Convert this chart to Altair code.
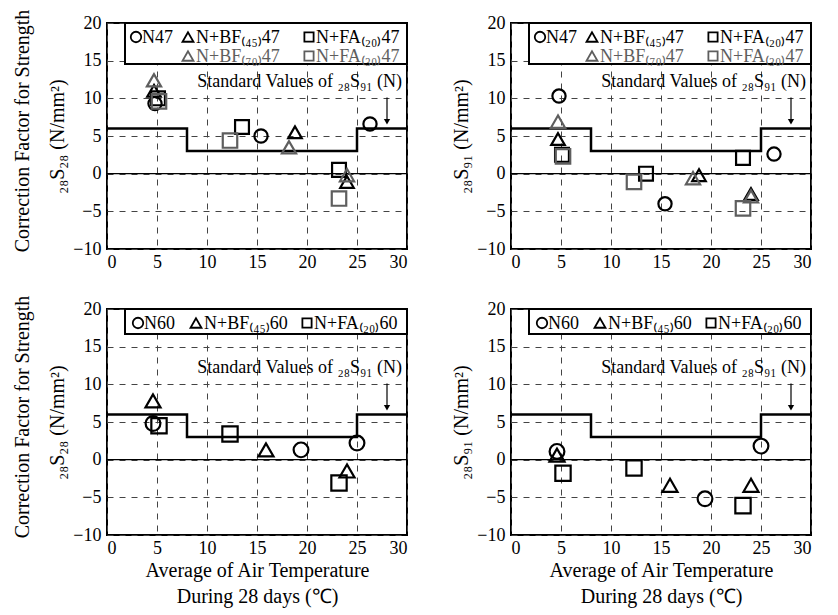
import altair as alt
import pandas as pd

# ---------------- data ----------------
series_47 = ["N47", "N+BF(45)47", "N+FA(20)47", "N+BF(70)47", "N+FA(30)47"]
series_60 = ["N60", "N+BF(45)60", "N+FA(20)60"]

# average air temperature during 28 days (deg C)
temp_N47 = [4.8, 15.4, 26.3]
temp_BF45_47 = [4.7, 18.8, 24.0]
temp_FA20_47 = [5.1, 13.5, 23.2]
temp_BF70_47 = [4.7, 18.2, 24.0]
temp_FA30_47 = [5.2, 12.3, 23.2]
temp_N60 = [4.6, 19.4, 25.0]
temp_BF45_60 = [4.6, 15.9, 24.0]
temp_FA20_60 = [5.2, 12.3, 23.2]

# 28S28 (N/mm2)
s2828_N47 = [9.3, 5.0, 6.6]
s2828_BF45_47 = [11.0, 5.5, -1.1]
s2828_FA20_47 = [10.0, 6.2, 0.5]
s2828_BF70_47 = [12.4, 3.5, -0.2]
s2828_FA30_47 = [9.6, 4.4, -3.3]
s2828_N60 = [4.8, 1.3, 2.2]
s2828_BF45_60 = [7.8, 1.3, -1.5]
s2828_FA20_60 = [4.5, 3.4, -3.1]

# 28S91 (N/mm2)
s2891_N47 = [10.3, -4.0, 2.6]
s2891_BF45_47 = [4.6, -0.2, -2.7]
s2891_FA20_47 = [2.5, 0.0, 2.1]
s2891_BF70_47 = [6.9, -0.6, -3.0]
s2891_FA30_47 = [2.3, -1.1, -4.6]
s2891_N60 = [1.1, -5.2, 1.8]
s2891_BF45_60 = [0.6, -3.4, -3.4]
s2891_FA20_60 = [-1.8, -1.1, -6.1]

# standard values of 28S91 (N)
step_x = [0, 8, 8, 25, 25, 30]
step_y = [6, 6, 3, 3, 6, 6]

x_ticks = [0, 5, 10, 15, 20, 25, 30]
y_ticks = [-10, -5, 0, 5, 10, 15, 20]

# ---------------- styling ----------------
all_series = series_47 + series_60
shape_of = {"N47": "circle", "N+BF(45)47": "triangle-up", "N+FA(20)47": "square",
            "N+BF(70)47": "triangle-up", "N+FA(30)47": "square",
            "N60": "circle", "N+BF(45)60": "triangle-up", "N+FA(20)60": "square"}
GREY = "#5e5e5e"
color_of = {s: (GREY if s in ("N+BF(70)47", "N+FA(30)47") else "black") for s in all_series}
size_of = {"circle": 175, "triangle-up": 235, "square": 240}
leg_size_of = {"circle": 110, "triangle-up": 120, "square": 85}
leg_dx_of = {"circle": 6, "triangle-up": 8, "square": 7}
label_of = {"N47": "N47", "N+BF(45)47": "N+BF₍₄₅₎47", "N+FA(20)47": "N+FA₍₂₀₎47",
            "N+BF(70)47": "N+BF₍₇₀₎47", "N+FA(30)47": "N+FA₍₃₀₎47",
            "N60": "N60", "N+BF(45)60": "N+BF₍₄₅₎60", "N+FA(20)60": "N+FA₍₂₀₎60"}

FONT = "Liberation Serif"
W, H = 300, 226


def make_df(temps, vals, names):
    rows = []
    for t, v, n in zip(temps, vals, names):
        for a, b in zip(t, v):
            rows.append({"temp": a, "val": b, "series": n})
    return pd.DataFrame(rows)


df_tl = make_df([temp_N47, temp_BF45_47, temp_FA20_47, temp_BF70_47, temp_FA30_47],
                [s2828_N47, s2828_BF45_47, s2828_FA20_47, s2828_BF70_47, s2828_FA30_47], series_47)
df_tr = make_df([temp_N47, temp_BF45_47, temp_FA20_47, temp_BF70_47, temp_FA30_47],
                [s2891_N47, s2891_BF45_47, s2891_FA20_47, s2891_BF70_47, s2891_FA30_47], series_47)
df_bl = make_df([temp_N60, temp_BF45_60, temp_FA20_60],
                [s2828_N60, s2828_BF45_60, s2828_FA20_60], series_60)
df_br = make_df([temp_N60, temp_BF45_60, temp_FA20_60],
                [s2891_N60, s2891_BF45_60, s2891_FA20_60], series_60)
df_step = pd.DataFrame({"temp": step_x, "val": step_y, "order": list(range(len(step_x)))})

xscale = alt.Scale(domain=[0, 30], nice=False, zero=False)
yscale = alt.Scale(domain=[-10, 20], nice=False, zero=False)


def legend_layers(rows, box_bottom_px):
    """rows: list of rows, each a list of (series, symbol_x_px)."""
    layers = [alt.Chart().mark_rect(fill="white", stroke="black", strokeWidth=2).encode(
        x=alt.value(18), x2=alt.value(W), y=alt.value(0), y2=alt.value(box_bottom_px))]
    for ri, row in enumerate(rows):
        sy = 14 + 19 * ri
        for s, sx in row:
            shp = shape_of[s]
            layers.append(alt.Chart().mark_point(
                filled=False, strokeWidth=1.8, size=leg_size_of[shp], shape=shp,
                color=color_of[s], opacity=1).encode(x=alt.value(sx), y=alt.value(sy)))
            layers.append(alt.Chart().mark_text(
                align="left", baseline="middle", fontSize=18, font=FONT, text=label_of[s],
                color=color_of[s]).encode(x=alt.value(sx + leg_dx_of[shp]), y=alt.value(sy + 1)))
    return layers


def panel(df, ytitle, xtitle, rows, box_bottom_px, outer_title=None):
    common = dict(grid=True, gridColor="#444444", gridDash=[6, 6], gridWidth=1,
                  labelFont=FONT, titleFont=FONT, labelFontSize=18, titleFontSize=20,
                  titleFontWeight="normal", labelColor="black", titleColor="black",
                  ticks=False, domain=False)
    if xtitle:
        xa = alt.Axis(values=x_ticks, title=xtitle, titlePadding=3, titleLineHeight=26,
                      labelPadding=4, **common)
    else:
        xa = alt.Axis(values=x_ticks, title=None, labelPadding=4, **common)
    ya = alt.Axis(values=y_ticks, title=ytitle, titlePadding=5, labelPadding=6, **common)

    def X(**kw):
        return alt.X(scale=xscale, axis=xa, **kw)

    def Y(**kw):
        return alt.Y(scale=yscale, axis=ya, **kw)

    pts = alt.Chart(df).mark_point(filled=False, strokeWidth=2.2, opacity=1).encode(
        x=X(field="temp", type="quantitative"),
        y=Y(field="val", type="quantitative"),
        shape=alt.Shape("series:N", scale=alt.Scale(domain=all_series, range=[shape_of[s] for s in all_series]), legend=None),
        color=alt.Color("series:N", scale=alt.Scale(domain=all_series, range=[color_of[s] for s in all_series]), legend=None),
        size=alt.Size("series:N", scale=alt.Scale(domain=all_series, range=[size_of[shape_of[s]] for s in all_series]), legend=None))
    zero = alt.Chart().mark_rule(color="black", strokeWidth=1.2).encode(
        x=X(datum=0), x2=alt.X2(datum=30), y=Y(datum=0))
    step = alt.Chart(df_step).mark_line(color="black", strokeWidth=2.5).encode(
        x=X(field="temp", type="quantitative"), y=Y(field="val", type="quantitative"), order="order:Q")
    std_txt = alt.Chart().mark_text(align="right", baseline="middle", fontSize=18, font=FONT,
                                    text="Standard Values of ₂₈S₉₁ (N)").encode(
        x=X(datum=29.5), y=Y(datum=12.2))
    arrow = alt.Chart().mark_rule(color="black", strokeWidth=1.2).encode(
        x=X(datum=28), y=Y(datum=10.1), y2=alt.Y2(datum=7.2))
    head = alt.Chart().mark_point(shape="triangle-down", filled=True, color="black", size=40, opacity=1).encode(
        x=X(datum=28), y=Y(datum=6.9))
    layers = [zero, step, std_txt, arrow, head] + legend_layers(rows, box_bottom_px) + [pts]
    if outer_title:
        layers.append(alt.Chart().mark_text(angle=270, align="center", baseline="middle", fontSize=20,
                                            font=FONT, color="black", text=outer_title).encode(
            x=alt.value(-84), y=alt.value(108)))
    return alt.layer(*layers).properties(width=W, height=H)


rows47 = [[("N47", 29), ("N+BF(45)47", 81), ("N+FA(20)47", 202)],
          [("N+BF(70)47", 81), ("N+FA(30)47", 202)]]
rows60 = [[("N60", 31), ("N+BF(45)60", 89), ("N+FA(20)60", 200)]]

outer = "Correction Factor for Strength"
ytl = "₂₈S₂₈ (N/mm²)"
ytr = "₂₈S₉₁ (N/mm²)"
xt = ["Average of Air Temperature", "During 28 days (℃)"]

p1 = panel(df_tl, ytl, None, rows47, 41, outer)
p2 = panel(df_tr, ytr, None, rows47, 41)
p3 = panel(df_bl, ytl, xt, rows60, 25, outer)
p4 = panel(df_br, ytr, xt, rows60, 25)

chart = alt.concat(p1, p2, p3, p4, columns=2, spacing={"row": 60, "column": 104}, bounds="flush").properties(
    padding={"left": 4, "top": 0, "right": 5, "bottom": 5}
).configure(font=FONT).configure_view(stroke="black", strokeWidth=2)

chart.save("out.html", embed_options={"renderer": "svg", "actions": False})
